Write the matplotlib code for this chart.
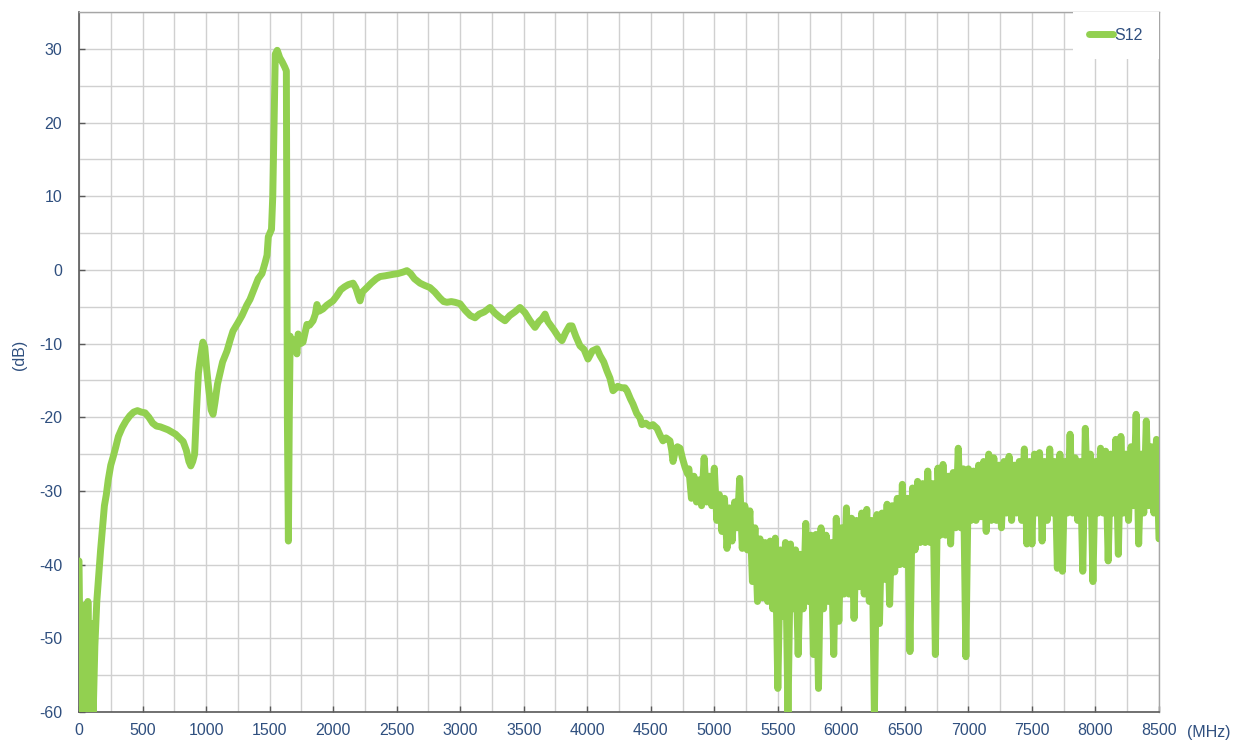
import numpy as np
import matplotlib
matplotlib.use("Agg")
import matplotlib.pyplot as plt

# smooth part of the trace (MHz, dB)
freq_low = [0, 10, 20, 30, 45, 60, 70, 85, 100, 112, 125, 140, 155, 170, 185, 200,
            215, 230, 250, 270, 290, 310, 340, 370, 400, 430, 460, 490, 520, 550,
            580, 610, 640, 670, 700, 730, 760, 790, 820, 845, 865, 880, 895, 910,
            925, 940, 955, 975, 990, 1005, 1020, 1040, 1055, 1070, 1090, 1110, 1130,
            1165, 1190, 1212, 1250, 1283, 1320, 1346, 1380, 1410, 1440, 1465, 1480,
            1490, 1515, 1525, 1535, 1545, 1560, 1580, 1600, 1620, 1632, 1640, 1648,
            1655, 1662, 1680, 1700, 1715, 1725, 1745, 1763, 1780, 1794, 1815, 1842,
            1860, 1873, 1890, 1920, 1950, 1975, 1999, 2030, 2060, 2090, 2120, 2157,
            2180, 2200, 2212, 2230, 2266, 2300, 2340, 2370, 2410, 2440, 2472, 2510,
            2550, 2581, 2610, 2640, 2684, 2720, 2762, 2800, 2840, 2870, 2896, 2930,
            2960, 2999, 3040, 3080, 3117, 3150, 3190, 3235, 3270, 3310, 3353, 3390,
            3430, 3471, 3510, 3550, 3589, 3620, 3645, 3668, 3690, 3707, 3740, 3770,
            3801, 3830, 3860, 3880, 3910, 3943, 3975, 4006, 4040, 4077, 4100, 4130,
            4155, 4179, 4203, 4240, 4270, 4297, 4313, 4340, 4360, 4390, 4415, 4431,
            4460, 4490, 4517, 4549, 4575, 4596, 4620, 4651, 4665, 4675, 4690, 4710,
            4730, 4750, 4770, 4790]
s12_low = [-39.5, -55, -46, -60, -45.5, -58, -45, -60, -48, -60, -51, -45, -41.5, -38, -35, -32,
           -30.5, -28.5, -26.5, -25.3, -24, -22.6, -21.4, -20.5, -19.8, -19.3, -19.1, -19.3, -19.4, -20,
           -20.8, -21.2, -21.3, -21.5, -21.7, -22, -22.3, -22.8, -23.3, -24.5, -26, -26.6, -26, -25,
           -19, -14, -12, -9.8, -10.5, -13.5, -16, -19, -19.6, -18, -15.5, -14, -12.5,
           -11, -9.5, -8.3, -7.2, -6.2, -4.8, -4, -2.5, -1.2, -0.5, 1, 2,
           4.5, 5.5, 10, 20, 29.3, 29.8, 28.8, 28.2, 27.5, 27, -20, -36.8,
           -20, -9, -10.5, -9.5, -11.4, -8.7, -10, -9.8, -8.5, -7.4, -7.5, -6.9,
           -6, -4.7, -5.6, -5.3, -4.8, -4.5, -4.2, -3.5, -2.7, -2.3, -2.0, -1.8,
           -2.5, -3.6, -4.2, -3, -2.4, -1.8, -1.2, -0.9, -0.8, -0.7, -0.6, -0.5,
           -0.3, -0.1, -0.5, -1.2, -1.8, -2.1, -2.4, -3, -3.8, -4.3, -4.4, -4.3,
           -4.4, -4.6, -5.5, -6.2, -6.5, -6, -5.7, -5.1, -5.8, -6.4, -6.9, -6.2,
           -5.7, -5.1, -5.8, -6.9, -7.8, -7, -6.6, -6.0, -7, -7.4, -8.2, -9,
           -9.6, -8.5, -7.6, -7.6, -9, -10.3, -10.8, -12.1, -11, -10.7, -11.6, -12.5,
           -13.7, -14.7, -16.4, -15.8, -16, -16, -16.4, -17.5, -18.2, -19.5, -20.1, -21,
           -20.8, -21.2, -21, -21.5, -22.5, -23.2, -22.8, -23.2, -24.5, -26, -24.8, -24,
           -24.2, -25.6, -26.8, -27.7]

# noisy part, 20 MHz steps from 4800 to 8500
freq_high = np.arange(4800, 8501, 20)
s12_high = [
    -27, -31, -28, -31.5, -28.5, -32, -25.5, -31.5, -28, -32,             # 4800
    -26.9, -34, -30.5, -35.5, -31, -37.8, -32.3, -36.8, -31.5, -35,       # 5000
    -28.3, -37.8, -32, -38, -32.7, -42.3, -35, -45, -36.5, -44.5,         # 5200
    -37, -45, -36.8, -46, -36.4, -56.8, -38, -47, -37, -60.5,             # 5400
    -37.2, -46, -38, -52.2, -38.6, -46, -34.4, -45, -36, -52.2,           # 5600
    -35.9, -56.8, -35, -46, -36, -45, -37, -52.2, -33.7, -47.7,           # 5800
    -35, -44, -32.3, -44, -33.7, -47.3, -34, -43, -33, -44,               # 6000
    -32.5, -45, -34, -60.5, -33.2, -48, -33, -42, -31.8, -45.4,           # 6200
    -32, -41, -31, -40, -29.1, -40, -31, -51.8, -29.6, -38,               # 6400
    -28.7, -37, -29, -37, -27.3, -37, -29, -52.2, -26.9, -36,             # 6600
    -26.4, -36, -28, -37.2, -27.5, -35, -24.2, -35, -27, -52.5,           # 6800
    -27, -34, -27.3, -34, -26.5, -33.5, -26, -35.5, -25, -34,             # 7000
    -25.5, -34, -26.5, -35, -26, -33, -25.3, -34, -26.5, -33,             # 7200
    -26, -34, -24.3, -37.2, -26, -37.2, -25, -33, -24.8, -36.8,           # 7400
    -26, -34, -24.3, -33, -26, -40.5, -25, -40.9, -26, -33,               # 7600
    -22.3, -33, -25.5, -34, -26, -40.9, -21.5, -33, -25, -42.3,           # 7800
    -26, -33, -24.2, -33, -24.6, -39.5, -25, -33, -23, -38.6,             # 8000
    -22.6, -33, -25, -34, -24, -32, -19.6, -37.2, -25, -33,               # 8200
    -20.5, -32, -24, -33, -23, -36.5,                                     # 8400
]

freq = np.concatenate([freq_low, freq_high])
s12 = np.concatenate([s12_low, s12_high])

text_color = '#2f4f7f'
plt.rcParams['font.family'] = ['Liberation Sans', 'DejaVu Sans']
plt.rcParams['axes.unicode_minus'] = False

fig = plt.figure(figsize=(12.4, 7.45), dpi=100)
ax = fig.add_axes([79 / 1240, 1 - 712 / 745, 1080 / 1240, 700 / 745])

ax.plot(freq, s12, color='#92d050', lw=5.0, solid_capstyle='round',
        solid_joinstyle='round', label='S12', zorder=3)

ax.set_xlim(0, 8500)
ax.set_ylim(-60, 35)
ax.set_xticks(np.arange(0, 8501, 500))
ax.set_xticks(np.arange(0, 8501, 250), minor=True)
ax.set_yticks(np.arange(-60, 31, 10))
ax.set_yticks(np.arange(-60, 36, 5), minor=True)
ax.grid(True, which='both', color='#d0d0d0', lw=1.0, zorder=0)
ax.set_axisbelow(True)

ax.tick_params(which='major', direction='in', length=4, width=1, color='#595959',
               labelsize=11.5, labelcolor=text_color)
ax.tick_params(axis='y', pad=12)
ax.tick_params(axis='x', pad=8)
ax.tick_params(which='minor', length=0)

for side in ['left', 'bottom']:
    ax.spines[side].set_color('#595959')
    ax.spines[side].set_linewidth(1.2)
for side in ['top', 'right']:
    ax.spines[side].set_color('#a6a6a6')
    ax.spines[side].set_linewidth(1.0)

leg = ax.legend(loc='upper right', fontsize=11.5, frameon=True, fancybox=False,
                framealpha=1, edgecolor='none', borderaxespad=0, borderpad=1.0,
                handlelength=1.5, handletextpad=0.1)
for t in leg.get_texts():
    t.set_color(text_color)

fig.text(1187 / 1240, 1 - 733 / 745, '(MHz)', color=text_color, fontsize=11.5,
         ha='left', va='center')
fig.text(20 / 1240, 1 - 355 / 745, '(dB)', color=text_color, fontsize=11.5,
         rotation=90, ha='center', va='center')

fig.savefig('out.png', dpi=100)
